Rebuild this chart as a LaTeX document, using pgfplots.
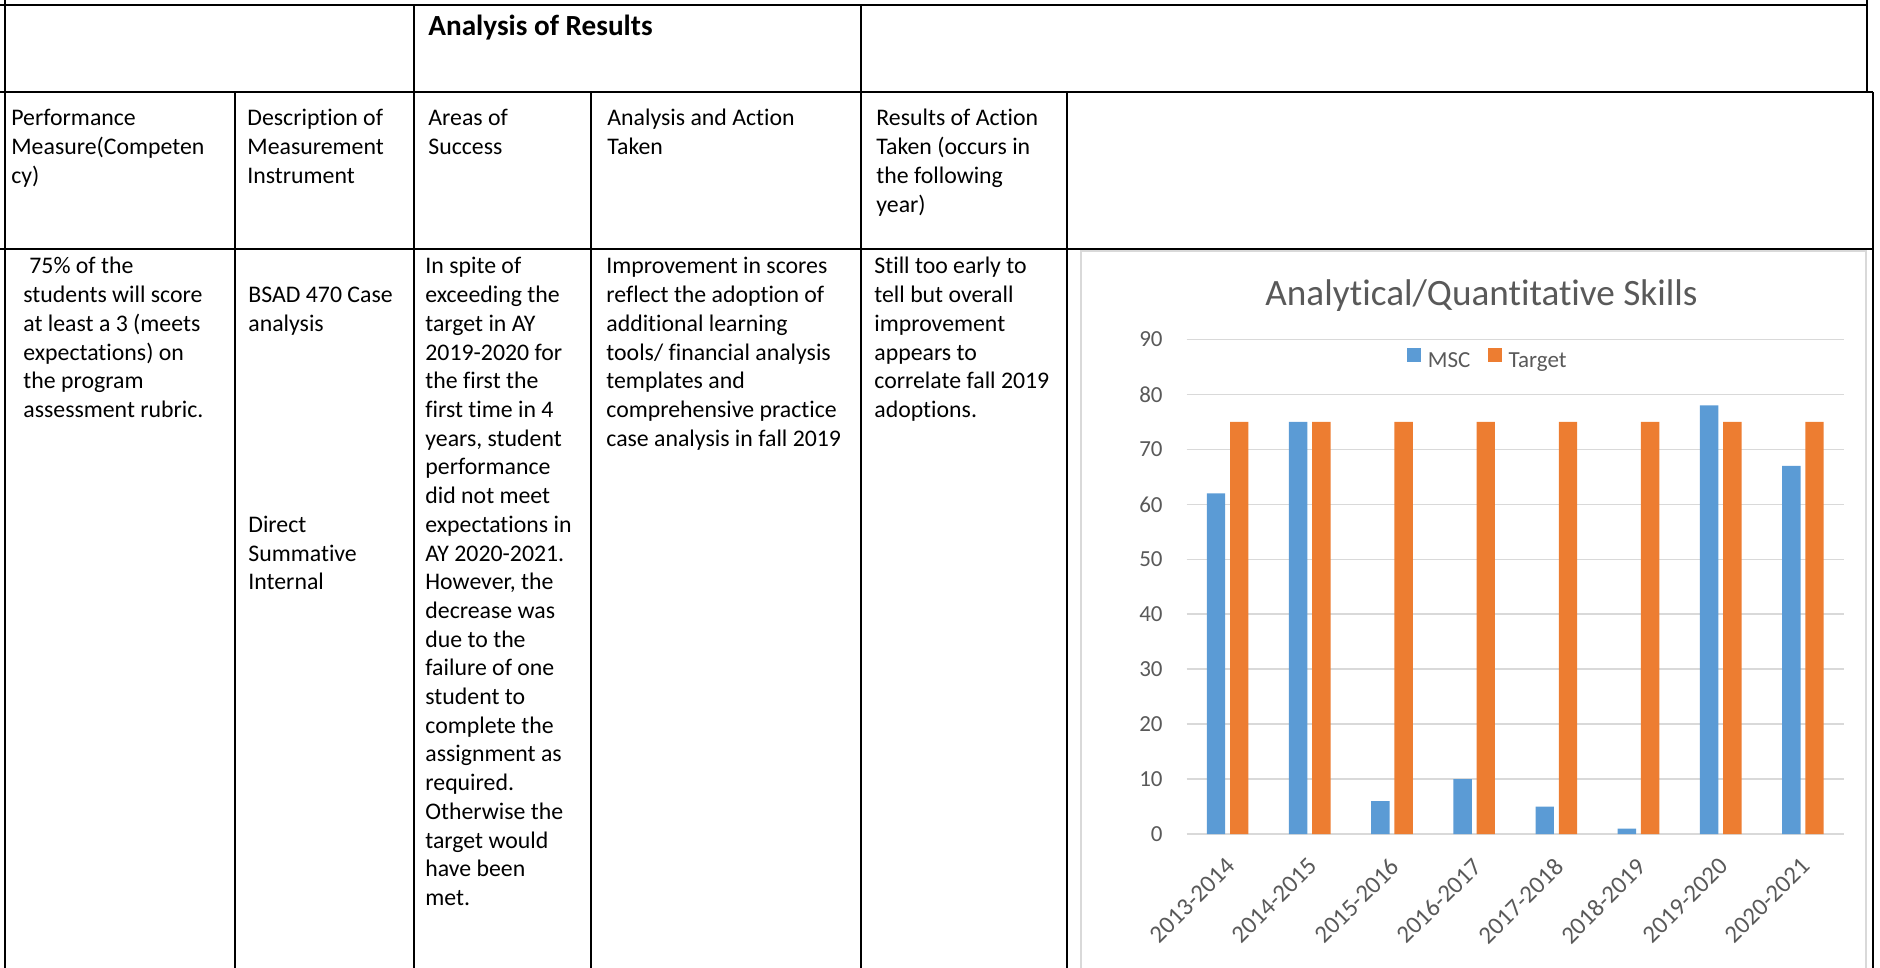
\documentclass[border=0pt]{standalone}
\usepackage{pgfplots}
\pgfplotsset{compat=1.18}
\usepackage{fontspec}
\setmainfont[Ligatures=NoCommon]{Carlito}
\definecolor{msc}{HTML}{5B9BD5}
\definecolor{tgt}{HTML}{ED7D31}
\definecolor{gridc}{HTML}{D9D9D9}
\definecolor{txt}{HTML}{595959}
\newcommand\bodyfont{\fontsize{11.9pt}{14.35pt}\selectfont}
\begin{document}
\begin{tikzpicture}
\path[use as bounding box] (0,0) rectangle (940pt,-484pt);
\begin{scope}[x=0.5pt,y=-0.5pt]
  % chart area border
  \draw[gridc, line width=0.75pt] (1081,975) -- (1081,251) -- (1866,251) -- (1866,975);
  % table grid
  \begin{scope}[line width=1.1pt]
    \draw (0,5) -- (1867,5);
    \draw (5,0) -- (5,968);
    \draw (1867,0) -- (1867,92);
    \draw (0,92) -- (1873,92);
    \draw (1873,92) -- (1873,968);
    \draw (0,249) -- (1873,249);
    \draw (414,5) -- (414,968);
    \draw (861,5) -- (861,968);
    \draw (235,92) -- (235,968);
    \draw (591,92) -- (591,968);
    \draw (1067,92) -- (1067,968);
  \end{scope}
  % title row
  \node[anchor=base west, inner sep=0pt, font=\fontsize{14.6pt}{17pt}\selectfont\bfseries] at (428,36) {Analysis of Results};
  % header row
  \foreach \t [count=\i from 0] in {Performance, Measure(Competen, cy)}
    \node[anchor=base west, inner sep=0pt, font=\bodyfont] at (11,{126+28.7*\i}) {\t};
  \foreach \t [count=\i from 0] in {Description of, Measurement, Instrument}
    \node[anchor=base west, inner sep=0pt, font=\bodyfont] at (247,{126+28.7*\i}) {\t};
  \foreach \t [count=\i from 0] in {Areas of, Success}
    \node[anchor=base west, inner sep=0pt, font=\bodyfont] at (428,{126+28.7*\i}) {\t};
  \foreach \t [count=\i from 0] in {Analysis and Action, Taken}
    \node[anchor=base west, inner sep=0pt, font=\bodyfont] at (607,{126+28.7*\i}) {\t};
  \foreach \t [count=\i from 0] in {Results of Action, Taken (occurs in, the following, year)}
    \node[anchor=base west, inner sep=0pt, font=\bodyfont] at (876,{126+28.7*\i}) {\t};
  % body row
  \node[anchor=base west, inner sep=0pt, font=\bodyfont] at (29,274) {75\% of the};
  \foreach \t [count=\i from 1] in {students will score, at least a 3 (meets, expectations) on, the program, assessment rubric.}
    \node[anchor=base west, inner sep=0pt, font=\bodyfont] at (23,{274+28.7*\i}) {\t};
  \foreach \t/\i in {BSAD 470 Case/1, analysis/2, Direct/9, Summative/10, Internal/11}
    \node[anchor=base west, inner sep=0pt, font=\bodyfont] at (248,{274+28.7*\i}) {\t};
  \foreach \t [count=\i from 0] in {In spite of, exceeding the, target in AY, 2019-2020 for, the first the, first time in 4, {years, student}, performance, did not meet, expectations in, AY 2020-2021., {However, the}, decrease was, due to the, failure of one, student to, complete the, assignment as, required., Otherwise the, target would, have been, met.}
    \node[anchor=base west, inner sep=0pt, font=\bodyfont] at (425,{274+28.7*\i}) {\t};
  \foreach \t [count=\i from 0] in {Improvement in scores, reflect the adoption of, additional learning, tools/ financial analysis, templates and, comprehensive practice, case analysis in fall 2019}
    \node[anchor=base west, inner sep=0pt, font=\bodyfont] at (606,{274+28.7*\i}) {\t};
  \foreach \t [count=\i from 0] in {Still too early to, tell but overall, improvement, appears to, correlate fall 2019, adoptions.}
    \node[anchor=base west, inner sep=0pt, font=\bodyfont] at (874,{274+28.7*\i}) {\t};
  % chart title
  \node[anchor=base, inner sep=0pt, text=txt, font=\fontsize{18.6pt}{22pt}\selectfont] at (1481.5,306) {Analytical/Quantitative Skills};
\end{scope}
\begin{axis}[
  at={(593.25pt,-417pt)}, anchor=south west,
  width=328.75pt, height=247.25pt, scale only axis,
  xmin=-0.5, xmax=7.5, ymin=0, ymax=90,
  ybar=2.4pt, bar width=9.2pt,
  legend image code/.code={\fill[#1] (0pt,0pt) rectangle (6.7pt,6.7pt);},
  ytick={0,10,...,90}, xtick={0,...,7},
  xticklabels={2013-2014,2014-2015,2015-2016,2016-2017,2017-2018,2018-2019,2019-2020,2020-2021},
  ymajorgrids, grid style={gridc, line width=0.75pt},
  axis line style={draw=none},
  major tick length=0pt,
  tick label style={text=txt},
  yticklabel style={font=\fontsize{11.5pt}{12pt}\selectfont, anchor=east, inner sep=0pt, xshift=-11.75pt},
  xticklabel style={font=\fontsize{12.4pt}{13pt}\selectfont, xshift=-1.5pt, yshift=-11pt, rotate=45, anchor=north east, inner sep=0pt},
  /pgf/number format/assume math mode=true,
  legend columns=2,
  legend style={at={(0.457,0.9595)}, anchor=center, draw=none, fill=none,
    font=\fontsize{11.5pt}{12pt}\selectfont, text=txt, inner sep=0pt,
    nodes={inner sep=0pt},
    /tikz/every odd column/.append style={column sep=3.5pt},
    /tikz/every even column/.append style={column sep=9pt}},
  clip=false,
]
\addplot[fill=msc, draw=none] coordinates {(0,62) (1,75) (2,6) (3,10) (4,5) (5,1) (6,78) (7,67)};
\addplot[fill=tgt, draw=none] coordinates {(0,75) (1,75) (2,75) (3,75) (4,75) (5,75) (6,75) (7,75)};
\legend{MSC, Target}
\end{axis}
\end{tikzpicture}
\end{document}
